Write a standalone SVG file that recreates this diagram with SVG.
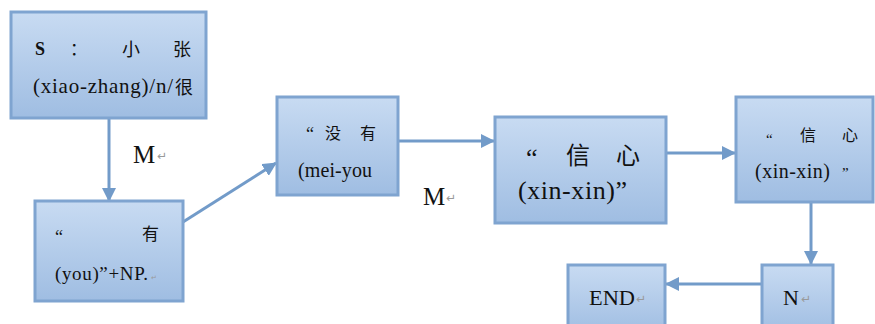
<svg xmlns="http://www.w3.org/2000/svg" width="875" height="324" viewBox="0 0 875 324">
<defs>
<linearGradient id="g" x1="0" y1="0" x2="0" y2="1">
<stop offset="0" stop-color="#c8dbf2"/>
<stop offset="1" stop-color="#9fbde2"/>
</linearGradient>
<marker id="ah" markerUnits="userSpaceOnUse" markerWidth="14" markerHeight="14" refX="13" refY="7" orient="auto">
<path d="M0,0 L14,7 L0,14 Z" fill="#729bc9"/>
</marker>
<style>
.box{fill:url(#g);stroke:#7fa4d0;stroke-width:3}
.t{font-family:"Liberation Serif","Noto Sans CJK SC",serif;fill:#111}
.c{font-family:"Noto Sans CJK SC","Liberation Serif",sans-serif;fill:#111;font-weight:400}
.r{font-family:"DejaVu Sans",sans-serif;fill:#999}
.conn line{stroke:#729bc9;stroke-width:3;marker-end:url(#ah)}
</style>
</defs>
<rect width="875" height="324" fill="#fff"/>
<g class="conn" id="connectors">
<line x1="109" y1="118" x2="109" y2="201"/>
<line x1="183" y1="222" x2="276" y2="163"/>
<line x1="398" y1="141" x2="494" y2="141"/>
<line x1="666" y1="153" x2="735" y2="153"/>
<line x1="811" y1="202" x2="811" y2="264"/>
<line x1="762" y1="284" x2="666" y2="284"/>
<text class="t" x="133" y="163" font-size="25">M</text><text class="r" x="157" y="160" font-size="12">↵</text>
<text class="t" x="423" y="205" font-size="25">M</text><text class="r" x="446" y="202" font-size="12">↵</text>
</g>
<g id="n1">
<rect class="box" x="11" y="12" width="195" height="106"/>
<text class="t" x="35" y="55" font-size="18" font-weight="bold">S</text>
<text class="c" x="70" y="55" font-size="17">：</text>
<text class="c" x="122" y="56" font-size="18">小</text>
<text class="c" x="173" y="56" font-size="18">张</text>
<text class="t" x="33" y="93" font-size="21" textLength="140" lengthAdjust="spacing">(xiao-zhang)/n/</text>
<text class="c" x="175" y="94" font-size="18">很</text>
</g>
<g id="n2">
<rect class="box" x="35" y="201" width="148" height="100"/>
<text class="t" x="55" y="243" font-size="18">“</text>
<text class="c" x="142" y="240" font-size="17">有</text>
<text class="t" x="55" y="280" font-size="19" textLength="93" lengthAdjust="spacing">(you)”+NP.</text>
<text class="r" x="151" y="280" font-size="7">↵</text>
</g>
<g id="n3">
<rect class="box" x="277" y="97" width="121" height="98"/>
<text class="t" x="306" y="140" font-size="18">“</text>
<text class="c" x="325" y="139" font-size="16">没</text>
<text class="c" x="360" y="139" font-size="16">有</text>
<text class="t" x="298" y="177" font-size="20" textLength="74" lengthAdjust="spacing">(mei-you</text>
</g>
<g id="n4">
<rect class="box" x="495" y="117" width="171" height="106"/>
<text class="t" x="526" y="166" font-size="26">“</text>
<text class="c" x="566" y="164" font-size="24">信</text>
<text class="c" x="616" y="164" font-size="24">心</text>
<text class="t" x="518" y="199" font-size="26" textLength="109" lengthAdjust="spacing">(xin-xin)”</text>
</g>
<g id="n5">
<rect class="box" x="736" y="97" width="137" height="105"/>
<text class="t" x="766" y="144" font-size="15">“</text>
<text class="c" x="800" y="141" font-size="16">信</text>
<text class="c" x="842" y="141" font-size="16">心</text>
<text class="t" x="755" y="178" font-size="20" textLength="75" lengthAdjust="spacing">(xin-xin)</text>
<text class="t" x="842" y="178" font-size="15">”</text>
</g>
<g id="n6">
<rect class="box" x="568" y="265" width="97" height="70"/>
<text class="t" x="589" y="305" font-size="22" textLength="46" lengthAdjust="spacingAndGlyphs">END</text>
<text class="r" x="636" y="303" font-size="12">↵</text>
</g>
<g id="n7">
<rect class="box" x="762" y="265" width="71" height="70"/>
<text class="t" x="783" y="305" font-size="22">N</text>
<text class="r" x="801" y="303" font-size="12">↵</text>
</g>
</svg>
